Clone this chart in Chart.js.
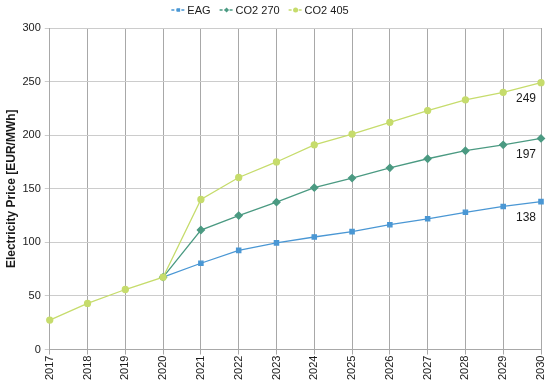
<!DOCTYPE html>
<html>
<head>
<meta charset="utf-8">
<script src="https://cdn.jsdelivr.net/npm/chart.js@4"></script>
<style>
  html, body { margin: 0; padding: 0; background: #fff; }
  #wrap { width: 550px; height: 385px; }
</style>
</head>
<body>
<div id="wrap"><canvas id="chart"></canvas></div>
<script>
const years = ['2017', '2018', '2019', '2020', '2021', '2022', '2023', '2024', '2025', '2026', '2027', '2028', '2029', '2030'];
const eagValues = [null, null, null, 67.5, 80.5, 92.5, 99.5, 105, 110, 116.5, 122, 128, 133.5, 138];
const co2270Values = [null, null, null, 67.5, 111.5, 125, 137.5, 151, 160, 169.5, 178, 185.5, 191, 197];
const co2405Values = [27.5, 43, 56, 67.5, 140, 160.5, 175, 191, 201, 212, 223, 233, 240, 249];
const yTicks = [0, 50, 100, 150, 200, 250, 300];

const FONT = '"Liberation Sans", Arial, sans-serif';

// values printed next to the 2030 points
const endLabels = {
  id: 'endLabels',
  afterDatasetsDraw(chart) {
    const ctx = chart.ctx;
    const xScale = chart.scales.x;
    const yScale = chart.scales.y;
    const last = years.length - 1;
    ctx.save();
    ctx.font = '12px ' + FONT;
    ctx.fillStyle = '#1a1a1a';
    ctx.textAlign = 'right';
    ctx.textBaseline = 'middle';
    [eagValues, co2270Values, co2405Values].forEach(values => {
      const v = values[last];
      ctx.fillText(String(v), xScale.getPixelForValue(last) - 5, yScale.getPixelForValue(v) + 16);
    });
    ctx.restore();
  }
};

// excel-like legend: short dashed line with the marker in the middle
const lineLegend = {
  id: 'lineLegend',
  afterDraw(chart) {
    const ctx = chart.ctx;
    ctx.save();
    ctx.font = '11px ' + FONT;
    const items = chart.data.datasets.map(ds => ({ ds, w: 16 + ctx.measureText(ds.label).width }));
    const gap = 9;
    const total = items.reduce((s, it) => s + it.w, 0) + gap * (items.length - 1);
    let x = 260 - total / 2;
    const y = 10;
    items.forEach(({ ds, w }) => {
      ctx.strokeStyle = ds.borderColor;
      ctx.lineWidth = 1.3;
      ctx.setLineDash([3, 2]);
      ctx.beginPath();
      ctx.moveTo(x, y);
      ctx.lineTo(x + 14, y);
      ctx.stroke();
      ctx.setLineDash([]);
      ctx.fillStyle = ds.backgroundColor;
      Chart.helpers.drawPoint(ctx, { pointStyle: ds.pointStyle, radius: 2.5, borderWidth: 0, rotation: 0 }, x + 7, y);
      ctx.fillStyle = '#1a1a1a';
      ctx.textBaseline = 'middle';
      ctx.fillText(ds.label, x + 16, y + 0.5);
      x += w + gap;
    });
    ctx.restore();
  }
};

const ctx = document.getElementById('chart').getContext('2d');
new Chart(ctx, {
  type: 'line',
  data: {
    labels: years,
    datasets: [
      {
        label: 'EAG',
        data: eagValues,
        borderColor: '#4a97d4',
        backgroundColor: '#4a97d4',
        pointStyle: 'rect',
        pointRadius: 3,
        borderWidth: 1.3,
        order: 3
      },
      {
        label: 'CO2 270',
        data: co2270Values,
        borderColor: '#4b9a82',
        backgroundColor: '#4b9a82',
        pointStyle: 'rectRot',
        pointRadius: 3.5,
        borderWidth: 1.3,
        order: 2
      },
      {
        label: 'CO2 405',
        data: co2405Values,
        borderColor: '#c6dc6c',
        backgroundColor: '#c6dc6c',
        pointStyle: 'circle',
        pointRadius: 3,
        borderWidth: 1.3,
        order: 1
      }
    ]
  },
  options: {
    responsive: true,
    maintainAspectRatio: false,
    animation: false,
    layout: { padding: { top: 28, right: 9, left: 0, bottom: 4 } },
    plugins: {
      legend: { display: false },
      tooltip: { enabled: false }
    },
    scales: {
      x: {
        grid: { color: '#a8a8a8', lineWidth: 1, tickLength: 5 },
        border: { color: '#a8a8a8' },
        ticks: {
          color: '#1a1a1a',
          font: { family: FONT, size: 11 },
          minRotation: 90,
          maxRotation: 90,
          padding: 1
        },
        afterFit(scale) { scale.paddingRight = 0; }
      },
      y: {
        min: 0,
        max: 300,
        afterBuildTicks(axis) { axis.ticks = yTicks.map(v => ({ value: v })); },
        grid: { color: '#cccccc', lineWidth: 1, tickLength: 5 },
        border: { color: '#a8a8a8' },
        ticks: {
          color: '#1a1a1a',
          font: { family: FONT, size: 11 },
          padding: 4
        },
        title: {
          display: true,
          text: 'Electricity Price [EUR/MWh]',
          color: '#1a1a1a',
          font: { family: FONT, size: 12, weight: 'bold' },
          padding: { top: 4, bottom: 0 }
        }
      }
    }
  },
  plugins: [endLabels, lineLegend]
});
</script>
</body>
</html>
